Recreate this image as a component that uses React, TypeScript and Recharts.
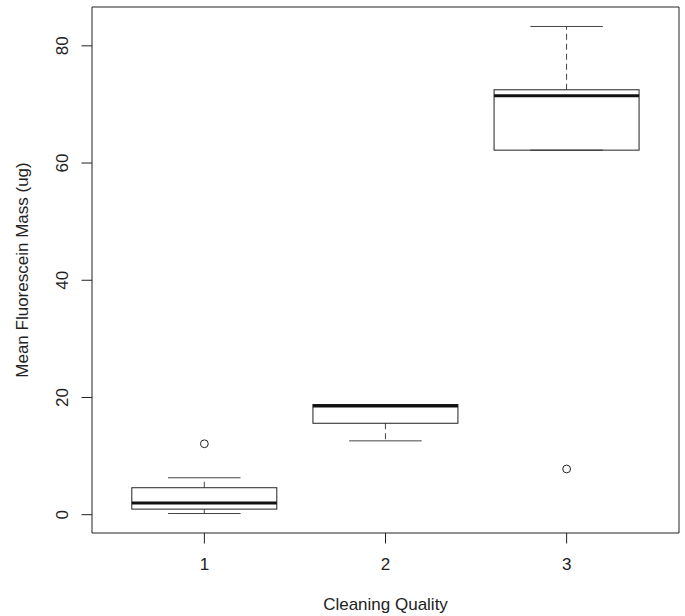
import React from 'react';
import { ComposedChart, Bar, Scatter, XAxis, YAxis, Label } from 'recharts';

const categories = ['1', '2', '3'];
const whiskerLow = [0.2, 12.6, 62.2];
const lowerQuartile = [0.95, 15.6, 62.2];
const medians = [1.98, 18.55, 71.5];
const upperQuartile = [4.6, 18.8, 72.5];
const whiskerHigh = [6.3, 18.8, 83.3];
const outlierValues: (number | null)[] = [12.1, null, 7.8];
const yTicks = [0, 20, 40, 60, 80];

const data = categories.map((name, i) => ({
  name,
  lo: whiskerLow[i],
  q1: lowerQuartile[i],
  med: medians[i],
  q3: upperQuartile[i],
  hi: whiskerHigh[i],
  out: outlierValues[i],
}));

const allVals = [
  ...whiskerLow,
  ...whiskerHigh,
  ...(outlierValues.filter((v) => v != null) as number[]),
];
const dMin = Math.min(...allVals);
const dMax = Math.max(...allVals);
const ext = (dMax - dMin) * 0.04;
const yDomain: [number, number] = [dMin - ext, dMax + ext];

const FONT = '"Liberation Sans", Arial, Helvetica, sans-serif';
const INK = '#222';
const WHISK = '#444';

const BoxShape = (props: any) => {
  const { x, y, width, height, payload } = props;
  const top = Math.min(y, y + height);
  const h = Math.abs(height);
  const { lo, hi, q1, q3, med } = payload;
  const py = (v: number) => (hi === lo ? top : top + (h * (hi - v)) / (hi - lo));
  const cx = x + width / 2;
  const half = width / 2;
  const st = width / 4;
  return (
    <g>
      <line x1={cx} x2={cx} y1={py(q3)} y2={py(hi)} stroke={WHISK} strokeWidth={1} strokeDasharray="6 4" />
      <line x1={cx} x2={cx} y1={py(q1)} y2={py(lo)} stroke={WHISK} strokeWidth={1} strokeDasharray="6 4" />
      <line x1={cx - st} x2={cx + st} y1={py(hi)} y2={py(hi)} stroke={WHISK} strokeWidth={1} />
      <line x1={cx - st} x2={cx + st} y1={py(lo)} y2={py(lo)} stroke={WHISK} strokeWidth={1} />
      <rect x={cx - half} y={py(q3)} width={width} height={py(q1) - py(q3)} fill="none" stroke={INK} strokeWidth={1} />
      <line x1={cx - half} x2={cx + half} y1={py(med)} y2={py(med)} stroke="#111" strokeWidth={3} />
    </g>
  );
};

const OutlierShape = (props: any) => {
  const { cx, cy, payload } = props;
  if (!payload || payload.out == null) return null;
  if (cx == null || cy == null || isNaN(cx) || isNaN(cy)) return null;
  return <circle cx={cx} cy={cy} r={3.9} fill="none" stroke={INK} strokeWidth={1} />;
};

const YTick = (props: any) => {
  const { x, y, payload } = props;
  return (
    <text
      transform={`translate(${x - 11.5}, ${y}) rotate(-90)`}
      textAnchor="middle"
      fontSize={17}
      fontFamily={FONT}
      fill={INK}
    >
      {payload.value}
    </text>
  );
};

const XTick = (props: any) => {
  const { x, payload } = props;
  return (
    <text x={x} y={569.5} textAnchor="middle" fontSize={17} fontFamily={FONT} fill={INK}>
      {payload.value}
    </text>
  );
};

export default function App() {
  return (
    <div style={{ position: 'absolute', left: 0, top: 0, background: '#fff' }}>
      <ComposedChart
        width={685}
        height={616}
        data={data}
        margin={{ top: 6, right: 5, bottom: 0, left: 0 }}
      >
        <XAxis
          dataKey="name"
          type="category"
          allowDuplicatedCategory={false}
          padding={{ left: 21.8, right: 21.8 }}
          height={83}
          tickSize={10.5}
          tickLine={{ stroke: INK }}
          axisLine={{ stroke: INK }}
          tick={<XTick />}
          interval={0}
        >
          <Label
            content={() => (
              <text x={385.5} y={610} textAnchor="middle" fontSize={17} fontFamily={FONT} fill={INK}>
                Cleaning Quality
              </text>
            )}
          />
        </XAxis>
        <XAxis
          xAxisId="top"
          dataKey="name"
          orientation="top"
          height={1}
          tick={false}
          tickLine={false}
          axisLine={{ stroke: INK }}
        />
        <YAxis
          type="number"
          domain={yDomain}
          ticks={yTicks}
          interval={0}
          width={92}
          tickSize={10.5}
          tickLine={{ stroke: INK }}
          axisLine={{ stroke: INK }}
          tick={<YTick />}
          allowDataOverflow
        >
          <Label
            content={() => (
              <text
                transform={`translate(27.5, 270) rotate(-90)`}
                textAnchor="middle"
                fontSize={17}
                fontFamily={FONT}
                fill={INK}
              >
                Mean Fluorescein Mass (ug)
              </text>
            )}
          />
        </YAxis>
        <YAxis
          yAxisId="right"
          orientation="right"
          width={1}
          tick={false}
          tickLine={false}
          axisLine={{ stroke: INK }}
        />
        <Bar
          dataKey={(d: any) => [d.lo, d.hi]}
          barSize={145}
          shape={<BoxShape />}
          isAnimationActive={false}
        />
        <Scatter
          dataKey="out"
          shape={<OutlierShape />}
          isAnimationActive={false}
        />
      </ComposedChart>
    </div>
  );
}
